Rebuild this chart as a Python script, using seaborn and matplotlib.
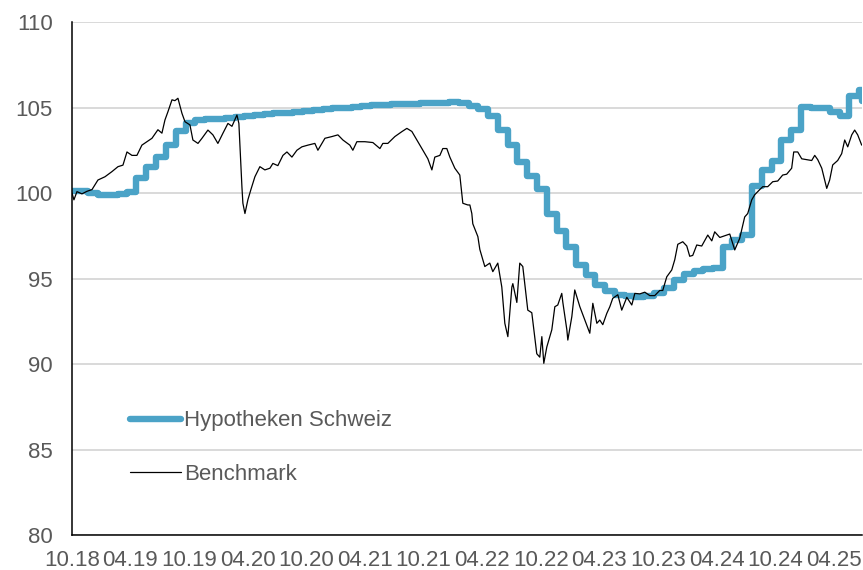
import numpy as np
import pandas as pd
import matplotlib
matplotlib.use("Agg")
import matplotlib.pyplot as plt
import seaborn as sns

# Zeitachse: Monate seit 01.10.2018
START = pd.Timestamp("2018-10-01")
END = pd.Timestamp("2025-06-28")

# Hypotheken Schweiz: Monatswerte (Oktober 2018 .. Juni 2025)
hypo_values = [
    100.1, 100.0, 99.9, 99.9, 99.95, 100.05,
    100.9, 101.5, 102.1, 102.8, 103.6, 104.1,
    104.25, 104.3, 104.35, 104.4, 104.45, 104.5,
    104.55, 104.6, 104.65, 104.7, 104.75, 104.8,
    104.85, 104.9, 104.95, 105.0, 105.05, 105.08,
    105.12, 105.15, 105.18, 105.2, 105.23, 105.25,
    105.27, 105.28, 105.3, 105.25, 105.1, 104.9,
    104.5, 103.7, 102.8, 101.8, 101.0, 100.25,
    98.8, 97.8, 96.85, 95.8, 95.2, 94.6,
    94.25, 94.05, 93.95, 93.9, 93.95, 94.15,
    94.45, 94.9, 95.25, 95.45, 95.55, 95.6,
    96.85, 97.25, 97.55, 100.4, 101.35, 101.9,
    103.1, 103.7, 105.05, 105.0, 105.0, 104.75,
    104.5, 105.65, 106.0, 105.4,
]

# Benchmark: Zeitpunkt in Monaten seit Start und Indexwert
bench_months = [
    0.00, 0.20, 0.51, 1.02, 1.54, 2.05, 2.66, 3.38, 4.09, 4.71,
    5.22, 5.63, 6.14, 6.65, 7.16, 7.68, 8.19, 8.80, 9.21, 9.52,
    9.83, 10.24, 10.54, 10.85, 11.26, 11.57, 12.08, 12.38, 12.90, 13.31,
    13.92, 14.43, 14.94, 15.46, 15.97, 16.38, 16.89, 17.09, 17.40, 17.50,
    17.71, 18.01, 18.32, 18.73, 19.24, 19.75, 20.27, 20.57, 21.08, 21.60,
    22.01, 22.52, 23.03, 23.54, 24.16, 24.87, 25.18, 25.90, 26.61, 27.23,
    27.74, 28.45, 28.76, 29.17, 29.99, 30.81, 31.53, 31.83, 32.34, 33.06,
    33.78, 34.29, 34.80, 35.41, 35.93, 36.44, 36.85, 37.15, 37.67, 37.97,
    38.38, 38.69, 39.20, 39.71, 40.02, 40.53, 40.74, 40.94, 41.04, 41.56,
    41.76, 42.27, 42.78, 43.09, 43.60, 44.01, 44.32, 44.63, 45.04, 45.14,
    45.55, 45.85, 46.16, 46.67, 47.08, 47.59, 47.90, 48.11, 48.31, 48.62,
    49.13, 49.44, 49.74, 50.15, 50.26, 50.67, 50.77, 51.18, 51.48, 52.00,
    52.51, 53.02, 53.33, 53.74, 54.04, 54.35, 54.76, 55.07, 55.37, 55.89,
    56.29, 56.81, 57.32, 57.63, 58.14, 58.65, 59.16, 59.67, 60.18, 60.49,
    60.90, 61.41, 61.72, 62.03, 62.54, 62.95, 63.25, 63.56, 63.97, 64.48,
    65.10, 65.51, 65.81, 66.33, 66.84, 67.35, 67.86, 68.37, 68.88, 69.19,
    69.60, 69.91, 70.42, 70.73, 71.24, 71.75, 72.26, 72.77, 73.18, 73.69,
    73.90, 74.31, 74.72, 75.23, 75.74, 76.05, 76.36, 76.77, 77.07, 77.28,
    77.58, 77.89, 78.40, 78.81, 79.12, 79.43, 79.84, 80.14, 80.45, 80.86,
]
bench_values = [
    100.0, 99.6, 100.08, 99.95, 100.1, 100.2, 100.76, 100.95, 101.25, 101.54,
    101.63, 102.4, 102.2, 102.2, 102.8, 103.0, 103.2, 103.7, 103.5, 104.27,
    104.76, 105.45, 105.4, 105.54, 104.66, 104.17, 103.98, 103.1, 102.9, 103.2,
    103.68, 103.4, 102.9, 103.5, 104.07, 103.9, 104.56, 104.07, 100.37, 99.4,
    98.8, 99.6, 100.2, 100.95, 101.54, 101.35, 101.45, 101.73, 101.6, 102.2,
    102.4, 102.1, 102.5, 102.7, 102.8, 102.9, 102.5, 103.2, 103.3, 103.4,
    103.1, 102.8, 102.5, 103.0, 103.0, 102.95, 102.6, 102.9, 102.9, 103.3,
    103.59, 103.78, 103.6, 103.0, 102.5, 102.0, 101.35, 102.1, 102.2, 102.6,
    102.6, 102.1, 101.45, 101.05, 99.4, 99.3, 99.3, 98.8, 98.2, 97.45,
    96.7, 95.7, 95.9, 95.4, 95.9, 94.5, 92.38, 91.6, 94.5, 94.7,
    93.6, 95.9, 95.7, 93.15, 93.0, 90.6, 90.4, 91.6, 90.04, 91.0,
    92.0, 93.35, 93.45, 94.13, 93.6, 92.0, 91.4, 92.77, 94.33, 93.35,
    92.57, 91.8, 93.55, 92.38, 92.57, 92.3, 92.96, 93.35, 93.84, 94.05,
    93.15, 93.9, 93.45, 94.13, 94.1, 94.2, 94.0, 94.0, 94.3, 94.3,
    95.1, 95.5, 96.1, 97.0, 97.15, 96.9, 96.3, 96.35, 96.96, 96.9,
    97.54, 97.2, 97.73, 97.4, 97.5, 97.6, 96.67, 97.35, 98.6, 98.8,
    99.6, 99.9, 100.2, 100.37, 100.37, 100.66, 100.7, 101.05, 101.1, 101.45,
    102.4, 102.4, 102.0, 101.95, 101.9, 102.2, 101.95, 101.45, 100.76, 100.27,
    100.76, 101.64, 101.9, 102.3, 103.1, 102.7, 103.4, 103.68, 103.4, 102.8,
]

tick_labels = ["10.18", "04.19", "10.19", "04.20", "10.20", "04.21", "10.21",
               "04.22", "10.22", "04.23", "10.23", "04.24", "10.24", "04.25"]

# Datenaufbereitung: Stufen jeweils um den 20. des Monats
hypo_dates = list(pd.date_range(START, periods=len(hypo_values), freq="MS") + pd.Timedelta(days=19))
hypo_dates[0] = START
hypo_dates.append(END)
hypo_y = hypo_values + [hypo_values[-1]]
df_hypo = pd.DataFrame({"Datum": hypo_dates, "Wert": hypo_y})

bench_dates = START + pd.to_timedelta(np.array(bench_months) * 30.4375, unit="D")
df_bench = pd.DataFrame({"Datum": bench_dates, "Wert": bench_values})

# Plot
sns.set_style("white")
plt.rcParams["font.family"] = ["Liberation Sans", "DejaVu Sans"]

grey = "#595959"
fig = plt.figure(figsize=(8.63, 5.70), dpi=100)
ax = fig.add_axes([0.0834, 0.0614, 0.9154, 0.90])

sns.lineplot(data=df_hypo, x="Datum", y="Wert", ax=ax, color="#4BA3C7",
             linewidth=4.6, drawstyle="steps-post", solid_capstyle="round",
             label="Hypotheken Schweiz")
sns.lineplot(data=df_bench, x="Datum", y="Wert", ax=ax, color="black",
             linewidth=0.9, label="Benchmark")

ax.set_xlim(START, END)
ax.set_ylim(80, 110)
ax.set_yticks(range(80, 111, 5))
ax.set_xticks(pd.date_range(START, periods=len(tick_labels), freq="6MS"))
ax.set_xticklabels(tick_labels)
ax.set_xlabel("")
ax.set_ylabel("")

ax.grid(axis="y", color="#d9d9d9", linewidth=1.4)
ax.set_axisbelow(True)
for s in ["top", "right"]:
    ax.spines[s].set_visible(False)
for s in ["left", "bottom"]:
    ax.spines[s].set_color("black")
    ax.spines[s].set_linewidth(1.1)

ax.tick_params(axis="y", length=0, pad=14, labelsize=16, labelcolor=grey)
ax.tick_params(axis="x", length=5, width=1.1, color="black", direction="out",
               pad=6, labelsize=16, labelcolor=grey)

leg = ax.legend(loc="center left", bbox_to_anchor=(0.0734, 0.1706), frameon=False,
                fontsize=16, handlelength=2.3, handletextpad=0.12,
                labelspacing=1.45, borderpad=0, borderaxespad=0)
for t in leg.get_texts():
    t.set_color(grey)

fig.savefig("out.png", dpi=100)
